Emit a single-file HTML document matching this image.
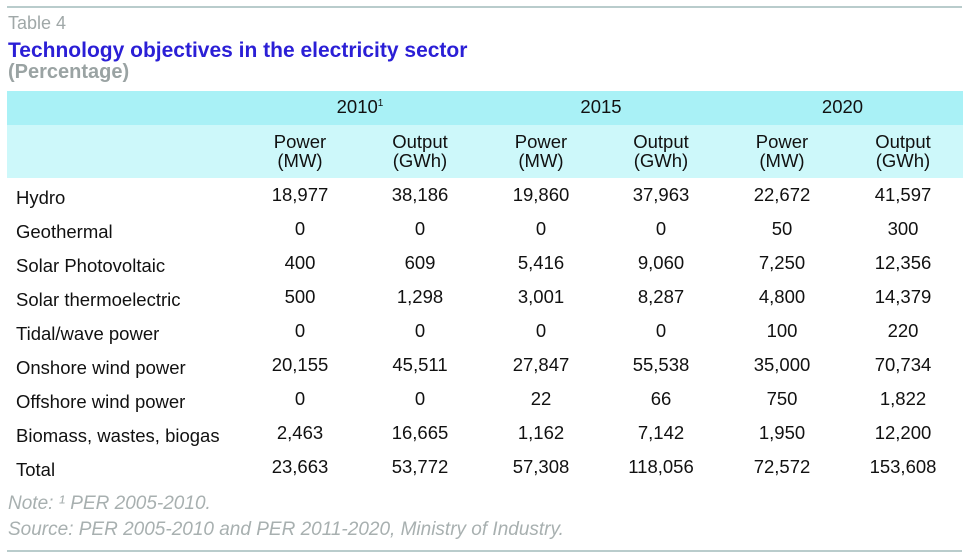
<!DOCTYPE html>
<html><head><meta charset="utf-8"><style>
body{margin:0;width:969px;height:559px;background:#fff;position:relative;font-family:"Liberation Sans",Arial,sans-serif;overflow:hidden}
.a{position:absolute;white-space:nowrap}
.c{text-align:center;transform:translateX(-50%)}
.t{font-size:18.5px;color:#111}
</style></head><body>
<div class="a" style="left:7px;top:6px;width:955px;height:2px;background:#b9cccc"></div>
<div class="a" style="left:8px;top:13px;font-size:18px;color:#a0a8a8">Table 4</div>
<div class="a" style="left:8px;top:39px;font-size:21px;font-weight:bold;color:#2b1fd6">Technology objectives in the electricity sector</div>
<div class="a" style="left:8px;top:61px;font-size:20px;font-weight:bold;color:#9aa3a3">(Percentage)</div>
<div class="a" style="left:7px;top:91px;width:956px;height:34px;background:#a9f1f6"></div>
<div class="a" style="left:7px;top:125px;width:956px;height:53px;background:#cdf8fa"></div>
<div id="tbl"></div>
<div class="a" style="left:8px;top:493px;font-size:19px;font-style:italic;color:#a8b0b0">Note: ¹ PER 2005-2010.</div>
<div class="a" style="left:8px;top:519px;font-size:19px;font-style:italic;color:#a8b0b0">Source: PER 2005-2010 and PER 2011-2020, Ministry of Industry.</div>
<div class="a" style="left:7px;top:550px;width:955px;height:2px;background:#b9cccc"></div>
<script>
const years=["2010¹","2015","2020"];
const rows=["Hydro","Geothermal","Solar Photovoltaic","Solar thermoelectric","Tidal/wave power","Onshore wind power","Offshore wind power","Biomass, wastes, biogas","Total"];
const vals=[
["18,977","38,186","19,860","37,963","22,672","41,597"],
["0","0","0","0","50","300"],
["400","609","5,416","9,060","7,250","12,356"],
["500","1,298","3,001","8,287","4,800","14,379"],
["0","0","0","0","100","220"],
["20,155","45,511","27,847","55,538","35,000","70,734"],
["0","0","22","66","750","1,822"],
["2,463","16,665","1,162","7,142","1,950","12,200"],
["23,663","53,772","57,308","118,056","72,572","153,608"]];
const colX=[300,420,541,661,782,903];
const T=document.getElementById('tbl');
function mk(txt,cls,l,t,name){const d=document.createElement('div');d.className=cls;d.style.left=l+'px';d.style.top=t+'px';d.innerHTML=txt;


T.appendChild(d);return d;}
years.forEach((y,i)=>{mk(y.replace('¹','<sup style="font-size:10px">1</sup>'),'a c t',(colX[2*i]+colX[2*i+1])/2,96,'year-header');});
colX.forEach((x,i)=>{mk(i%2?'Output<br>(GWh)':'Power<br>(MW)','a c t',x,132,'unit-header').style.lineHeight='19px';});
rows.forEach((r,j)=>{const y=186+j*34;
mk(r,'a t',16,y+1,'row-label');
vals[j].forEach((v,i)=>mk(v,'a c t',colX[i],y-2,'cell-value'));});
</script>
</body></html>
